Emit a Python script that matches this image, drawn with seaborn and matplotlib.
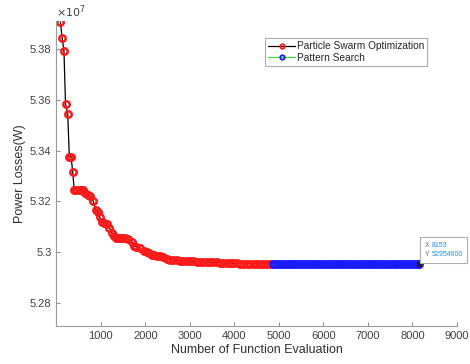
import matplotlib
matplotlib.use("Agg")
import matplotlib.pyplot as plt
from matplotlib.offsetbox import AnnotationBbox, HPacker, TextArea
from matplotlib.ticker import FuncFormatter
import seaborn as sns

sns.set_theme(style="white")
plt.rcParams["font.family"] = ["Liberation Sans", "DejaVu Sans"]

# Particle Swarm Optimization: evaluations vs best power loss (x1e7 W)
pso_evals = [90, 130, 170, 205, 255, 290, 330, 365, 400, 450, 500, 550, 600,
             650, 700, 760, 830, 880, 930, 970, 1020, 1080, 1140, 1190, 1250,
             1300, 1350, 1400, 1450, 1500, 1550, 1620, 1700, 1750, 1800, 1880,
             1960, 2030, 2080, 2150, 2200, 2270, 2330, 2400, 2480, 2550, 2630,
             2700, 2780, 2850, 2930, 3000, 3080, 3150, 3230, 3300, 3380, 3450,
             3530, 3600, 3680, 3750, 3830, 3900, 3980, 4050, 4130, 4200, 4280,
             4350, 4430, 4500, 4580, 4650, 4730, 4800, 4860]
pso_loss = [5.3906, 5.3843, 5.3792, 5.3584, 5.3545, 5.3376, 5.3376, 5.3318,
            5.3247, 5.3247, 5.3247, 5.3247, 5.3245, 5.3235, 5.3226, 5.3220,
            5.3201, 5.3165, 5.3160, 5.3139, 5.3120, 5.3114, 5.3112, 5.3096,
            5.3076, 5.3065, 5.3055, 5.3055, 5.3055, 5.3055, 5.3055, 5.3052,
            5.3041, 5.3025, 5.3021, 5.3016, 5.3004, 5.3002, 5.2997, 5.2990,
            5.2988, 5.2986, 5.2984, 5.2980, 5.2975, 5.2971, 5.2969, 5.2968,
            5.2967, 5.2966, 5.2966, 5.2965, 5.2964, 5.2963, 5.2963, 5.2962,
            5.2962, 5.2961, 5.2960, 5.2960, 5.2959, 5.2958, 5.2957, 5.2957,
            5.2956, 5.2956, 5.2955, 5.2955, 5.2955, 5.2955, 5.29548, 5.29547,
            5.29547, 5.29546, 5.29546, 5.29546, 5.29546]

# Pattern Search: evaluated every ~65 function calls, stays at the PSO optimum
ps_evals = list(range(4870, 8153, 65)) + [8153]
ps_loss = [5.29546] * len(ps_evals)

tip_x = 8153
tip_y = 52954600

pso_w = [v * 1e7 for v in pso_loss]
ps_w = [v * 1e7 for v in ps_loss]

fig = plt.figure(figsize=(4.7, 3.64), dpi=100)
ax = fig.add_axes([0.120, 0.104, 0.852, 0.838])

sns.lineplot(x=pso_evals, y=pso_w, ax=ax, sort=False, estimator=None,
             color="black", linewidth=0.9, marker="o", markersize=4.6,
             markerfacecolor="none", markeredgecolor="#ff1a1a",
             markeredgewidth=1.8, label="Particle Swarm Optimization")
sns.lineplot(x=ps_evals, y=ps_w, ax=ax, sort=False, estimator=None,
             color="#33dd33", linewidth=0.9, marker="o", markersize=4.6,
             markerfacecolor="none", markeredgecolor="#1a1aff",
             markeredgewidth=1.8, label="Pattern Search")

ax.set_xlim(0, 9000)
ax.set_ylim(5.27094e7, 5.3910e7)
ax.set_xticks([1000, 2000, 3000, 4000, 5000, 6000, 7000, 8000, 9000])
ax.set_yticks([5.28e7, 5.30e7, 5.32e7, 5.34e7, 5.36e7, 5.38e7])
ax.yaxis.set_major_formatter(FuncFormatter(lambda v, p: f"{v / 1e7:g}"))
ax.tick_params(direction="in", length=3, width=0.7, colors="#8a8a8a",
               labelcolor="#404040", labelsize=8, bottom=True, left=True)
for side in ["top", "right"]:
    ax.spines[side].set_visible(False)
for side in ["left", "bottom"]:
    ax.spines[side].set_color("#9a9a9a")
    ax.spines[side].set_linewidth(0.8)

ax.text(0.0, 1.005, r"$\times10^7$", transform=ax.transAxes, fontsize=8,
        color="#404040", ha="left", va="bottom")
ax.set_xlabel("Number of Function Evaluation", fontsize=9, color="#303030",
              labelpad=2)
ax.set_ylabel("Power Losses(W)", fontsize=9, color="#303030", labelpad=3)

leg = ax.legend(loc="upper left", bbox_to_anchor=(0.522, 0.944), fontsize=7.3,
                frameon=True, fancybox=False, handlelength=2.6,
                handletextpad=0.2, borderpad=0.3, labelspacing=0.15,
                borderaxespad=0)
leg.get_frame().set_edgecolor("#9a9a9a")
leg.get_frame().set_linewidth(0.8)
for h in leg.legend_handles:
    h.set_markersize(3.2)
    h.set_markeredgewidth(1.3)

# data tip at the last evaluation: gray field names, blue values, one box
ax.plot([tip_x], [tip_y], marker="s", markersize=2.5, color="#202020")
names = TextArea("X\nY", textprops=dict(color="#707070", fontsize=5,
                                        linespacing=1.5))
values = TextArea(f"{tip_x}\n{tip_y}",
                  textprops=dict(color="#1e90ff", fontsize=5, linespacing=1.5))
tip_box = AnnotationBbox(HPacker(children=[names, values], sep=1.5, pad=0),
                         (tip_x, tip_y), xybox=(4, 4),
                         boxcoords="offset points", box_alignment=(0, 0),
                         pad=0.35, frameon=True,
                         bboxprops=dict(boxstyle="square", fc="white",
                                        ec="#b0b0b0", lw=0.8))
ax.add_artist(tip_box)

fig.savefig("out.png", dpi=100)
